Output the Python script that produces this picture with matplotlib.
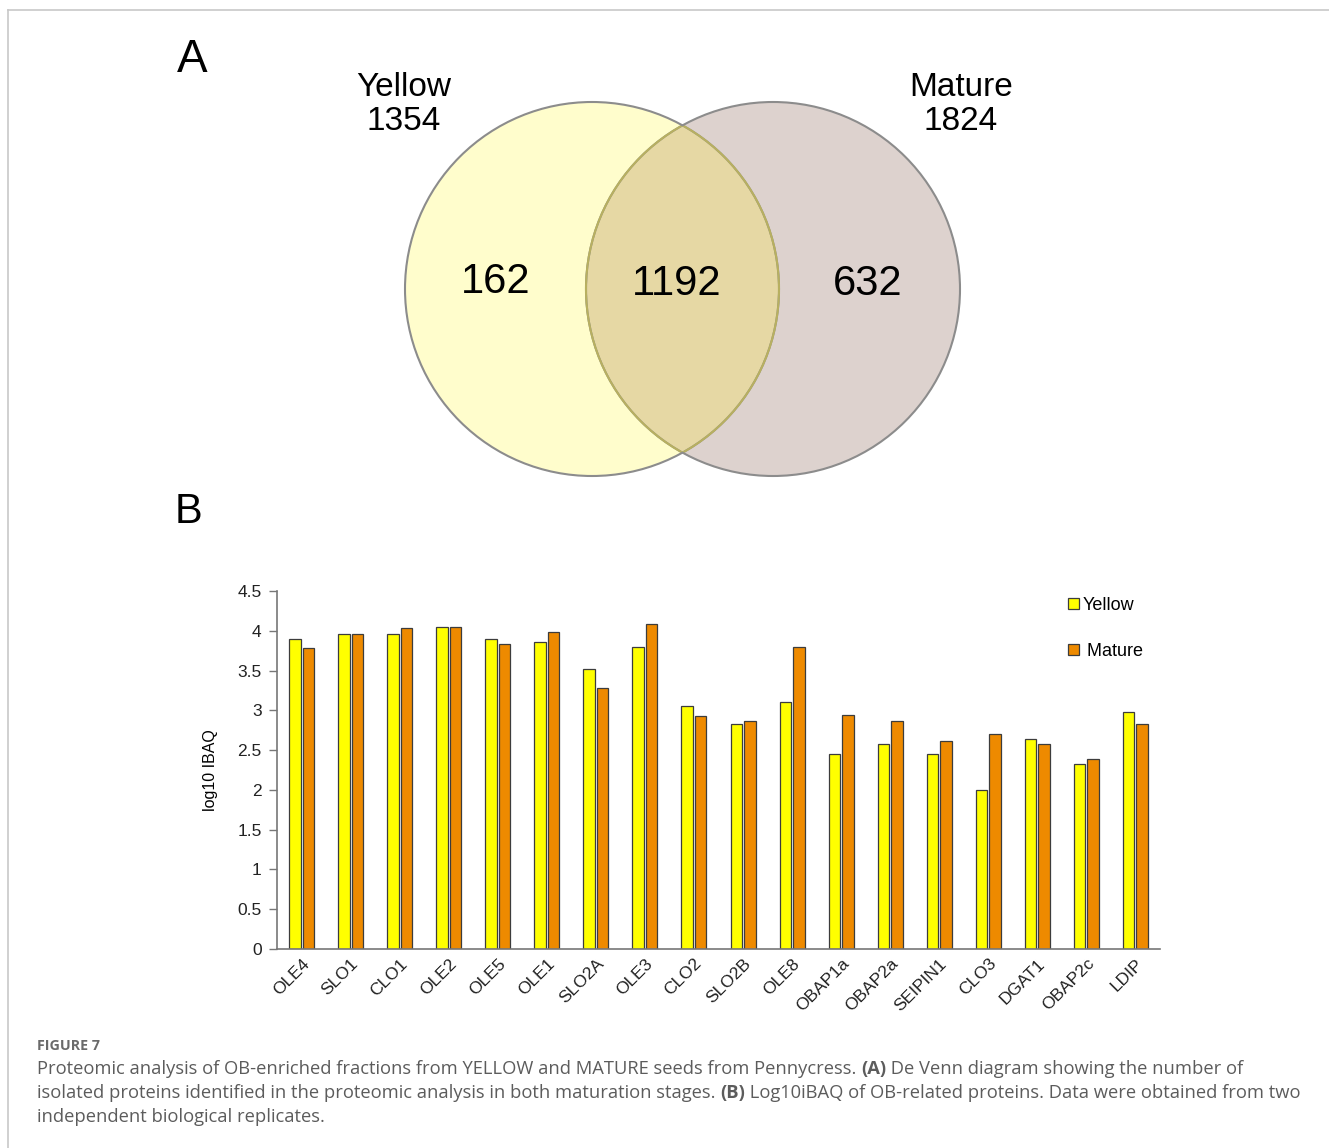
import matplotlib
matplotlib.use("Agg")
import matplotlib.pyplot as plt
from matplotlib.patches import Circle
import numpy as np

# ---- data ----
venn_sets = ["Yellow", "Mature"]
venn_totals = [1354, 1824]
venn_only = [162, 632]
venn_shared = 1192

proteins = ["OLE4", "SLO1", "CLO1", "OLE2", "OLE5", "OLE1", "SLO2A", "OLE3",
            "CLO2", "SLO2B", "OLE8", "OBAP1a", "OBAP2a", "SEIPIN1", "CLO3",
            "DGAT1", "OBAP2c", "LDIP"]
yellow_vals = [3.90, 3.96, 3.96, 4.05, 3.90, 3.86, 3.52, 3.79, 3.05, 2.83,
               3.10, 2.45, 2.58, 2.45, 2.00, 2.64, 2.32, 2.98]
mature_vals = [3.78, 3.96, 4.03, 4.05, 3.84, 3.98, 3.28, 4.08, 2.93, 2.87,
               3.80, 2.94, 2.87, 2.62, 2.70, 2.58, 2.39, 2.83]
y_ticks = [0, 0.5, 1, 1.5, 2, 2.5, 3, 3.5, 4, 4.5]
y_ticklabels = ["0", "0.5", "1", "1.5", "2", "2.5", "3", "3.5", "4", "4.5"]

caption_head = "FIGURE 7"
caption_lines = [
    [("Proteomic analysis of OB-enriched fractions from YELLOW and MATURE seeds from Pennycress. ", "normal"),
     ("(A)", "bold"), (" De Venn diagram showing the number of", "normal")],
    [("isolated proteins identified in the proteomic analysis in both maturation stages. ", "normal"),
     ("(B)", "bold"), (" Log10iBAQ of OB-related proteins. Data were obtained from two", "normal")],
    [("independent biological replicates.", "normal")],
]

W, H = 1329, 1148
fig = plt.figure(figsize=(W / 100, H / 100), dpi=100)

# background axes in pixel units: frame, venn, caption
bg = fig.add_axes([0, 0, 1, 1])
bg.set_xlim(0, W)
bg.set_ylim(H, 0)
bg.axis("off")

bg.plot([8, W], [10, 10], color="#c8c8c8", lw=1.2)
bg.plot([8, 8], [10, H], color="#c8c8c8", lw=1.2)

sans = ["Liberation Sans", "DejaVu Sans"]

# ---- A: venn ----
c1, c2, r = (592, 289), (773, 289), 187
bg.add_patch(Circle(c1, r, facecolor="#fffdcc", edgecolor="none", zorder=1))
bg.add_patch(Circle(c2, r, facecolor="#ddd2ce", edgecolor="none", zorder=1))
ov = Circle(c1, r, facecolor="#e6d8a4", edgecolor="none", zorder=2)
bg.add_patch(ov)
ov.set_clip_path(Circle(c2, r, transform=bg.transData))
bg.add_patch(Circle(c1, r, facecolor="none", edgecolor="#8c8c8c", lw=1.5, zorder=3))
bg.add_patch(Circle(c2, r, facecolor="none", edgecolor="#8c8c8c", lw=1.5, zorder=3))
# arcs inside the overlap
e1 = Circle(c1, r, facecolor="none", edgecolor="#b8b060", lw=1.5, zorder=4)
bg.add_patch(e1)
e1.set_clip_path(Circle(c2, r - 1, transform=bg.transData))
e2 = Circle(c2, r, facecolor="none", edgecolor="#b8b060", lw=1.5, zorder=4)
bg.add_patch(e2)
e2.set_clip_path(Circle(c1, r - 1, transform=bg.transData))

bg.text(192, 60, "A", fontsize=33, family=sans, ha="center", va="center")
for name, tot, x in zip(venn_sets, venn_totals, [404, 961]):
    bg.text(x, 87, name, fontsize=24, family=sans, ha="center", va="center")
    bg.text(x, 121, str(tot), fontsize=24, family=sans, ha="center", va="center")
bg.text(496, 282, str(venn_only[0]), fontsize=30, family=sans, ha="center", va="center", zorder=5)
bg.text(677, 284, str(venn_shared), fontsize=30, family=sans, ha="center", va="center", zorder=5)
bg.text(868, 284, str(venn_only[1]), fontsize=30, family=sans, ha="center", va="center", zorder=5)

bg.text(188, 512, "B", fontsize=30, family=sans, ha="center", va="center")

# ---- B: bars ----
ax = fig.add_axes([277 / W, (H - 949) / H, (1160 - 277) / W, (949 - 591) / H])
x = np.arange(len(proteins))
bw = 0.235
ax.bar(x - bw / 2 - 0.02, yellow_vals, bw, color="#ffff00", edgecolor="#3c3c3c", lw=0.9, label="Yellow")
ax.bar(x + bw / 2 + 0.02, mature_vals, bw, color="#ee8a00", edgecolor="#3c3c3c", lw=0.9, label=" Mature")
ax.set_xlim(-0.5, len(proteins) - 0.5)
ax.set_ylim(0, 4.5)
ax.set_yticks(y_ticks)
ax.set_yticklabels(y_ticklabels, family=sans, fontsize=12.5, color="#222222")
ax.set_xticks(x)
ax.set_xticklabels(proteins, rotation=45, ha="right", rotation_mode="anchor",
                   family=sans, fontsize=12.5, color="#222222")
ax.tick_params(axis="x", length=0, pad=5)
ax.tick_params(axis="y", length=6, width=1, color="#777777", pad=5)
for s in ["top", "right"]:
    ax.spines[s].set_visible(False)
for s in ["left", "bottom"]:
    ax.spines[s].set_color("#777777")
    ax.spines[s].set_linewidth(1.2)
ax.set_ylabel("log10 IBAQ", family=sans, fontsize=11.5, labelpad=14)
ax.patch.set_alpha(0)
ax.legend(loc="upper left", bbox_to_anchor=(1068 / W, (H - 597) / H),
          bbox_transform=fig.transFigure, frameon=False,
          prop={"family": sans, "size": 13}, handlelength=0.6, handleheight=0.6,
          handletextpad=0.2, labelspacing=1.6, borderaxespad=0, borderpad=0)

# ---- caption ----
bg.text(37, 1046, caption_head, fontsize=10.3, family=["Open Sans", "DejaVu Sans"],
        weight="bold", color="#6a6a6a", ha="left", va="center")
renderer = fig.canvas.get_renderer()
for i, line in enumerate(caption_lines):
    xpos = 37
    for txt, wt in line:
        t = bg.text(xpos, 1069 + 24 * i, txt, fontsize=13.2, family=["Open Sans", "DejaVu Sans"],
                    weight=wt, color="#5c5c5c", ha="left", va="center")
        xpos = t.get_window_extent(renderer).x1

fig.savefig("out.png", dpi=100)
